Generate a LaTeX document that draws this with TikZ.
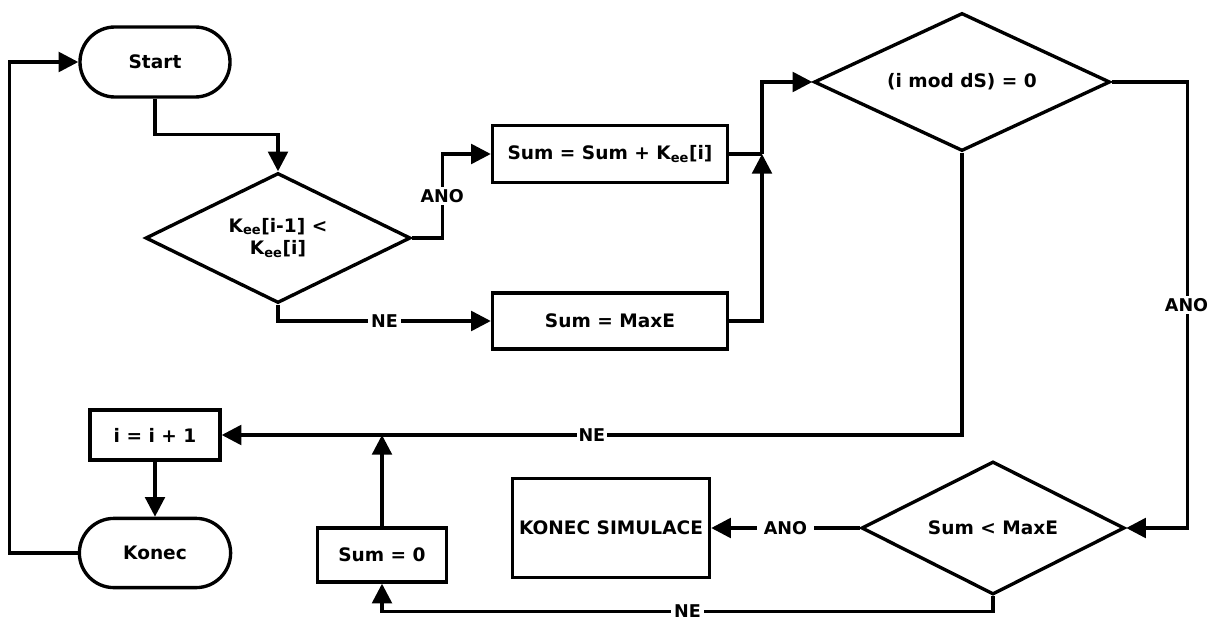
\documentclass[tikz,border=0pt]{standalone}
\usepackage{fontspec}
\setmainfont{DejaVu Sans}
\usetikzlibrary{arrows.meta,shapes.geometric,shapes.misc}
\tikzset{
  txt/.style={font=\bfseries\fontsize{13.2}{16}\selectfont},
  terminal/.style={draw, rounded rectangle, txt, line width=2.4pt, inner sep=0pt},
  process/.style={draw, rectangle, txt, line width=2.4pt, inner sep=0pt},
  decision/.style={draw, diamond, aspect=2, txt, line width=2.4pt, inner sep=0pt, align=center},
  line/.style={line width=2.4pt},
  arr/.style={line width=2.4pt, -{Triangle[length=14pt,width=14pt]}},
  lbl/.style={font=\bfseries\fontsize{12.5}{15}\selectfont, fill=white, inner sep=2pt},
}

\begin{document}
\begin{tikzpicture}[x=0.025cm,y=-0.025cm]
\useasboundingbox (0,0) rectangle (1208,622);
\node[terminal, minimum width=3.75cm, minimum height=1.75cm] (start) at (155,62) {Start};
\node[decision, minimum width=6.625cm, minimum height=3.25cm] (kee) at (278,238) {K\textsubscript{ee}[i-1] <\\K\textsubscript{ee}[i]};
\node[process, minimum width=5.875cm, minimum height=1.425cm] (sumk) at (610,154) {Sum = Sum + K\textsubscript{ee}[i]};
\node[process, minimum width=5.875cm, minimum height=1.4cm] (summax) at (610,321) {Sum = MaxE};
\node[decision, minimum width=7.4cm, minimum height=3.45cm] (mod) at (962,82) {(i mod dS) = 0};
\node[process, minimum width=3.25cm, minimum height=1.25cm] (inc) at (155,435) {i = i + 1};
\node[terminal, minimum width=3.78cm, minimum height=1.73cm] (konec) at (155,553) {Konec};
\node[process, minimum width=3.225cm, minimum height=1.35cm] (sumzero) at (382,555) {Sum = 0};
\node[process, minimum width=4.925cm, minimum height=2.475cm] (ksim) at (611,528) {KONEC SIMULACE};
\node[decision, minimum width=6.575cm, minimum height=3.325cm] (less) at (993,528) {Sum < MaxE};
\coordinate (join) at (762,154);

\draw[arr] (start.south) -- ++(0,36) -| (kee.north);
\draw[arr] (kee.east) -- ++(30,0) |- node[lbl,pos=0.25]{ANO} (sumk.west);
\draw[arr] (kee.south) |- node[lbl,pos=0.75]{NE} (summax.west);
\draw[line] (sumk.east) -- (join);
\draw[arr] (summax.east) -| (join);
\draw[arr] (join) |- (mod.west);
\draw[arr] (mod.east) -- ++(76,0) |- node[lbl,pos=0.25,xshift=-0.03cm]{ANO} (less.east);
\draw[arr] (mod.south) |- node[lbl,pos=0.75,inner sep=1pt]{NE} (inc.east);
\draw[arr] (sumzero.north) -- (sumzero.north |- inc.east);
\draw[arr] (less.west) -- node[lbl,inner sep=5pt]{ANO} (ksim.east);
\draw[arr] (less.south) -- ++(0,15) -| node[lbl,pos=0.25]{NE} (sumzero.south);
\draw[arr] (inc.south) -- (konec.north);
\draw[arr] (konec.west) -- ++(-68,0) |- (start.west);
\end{tikzpicture}
\end{document}
